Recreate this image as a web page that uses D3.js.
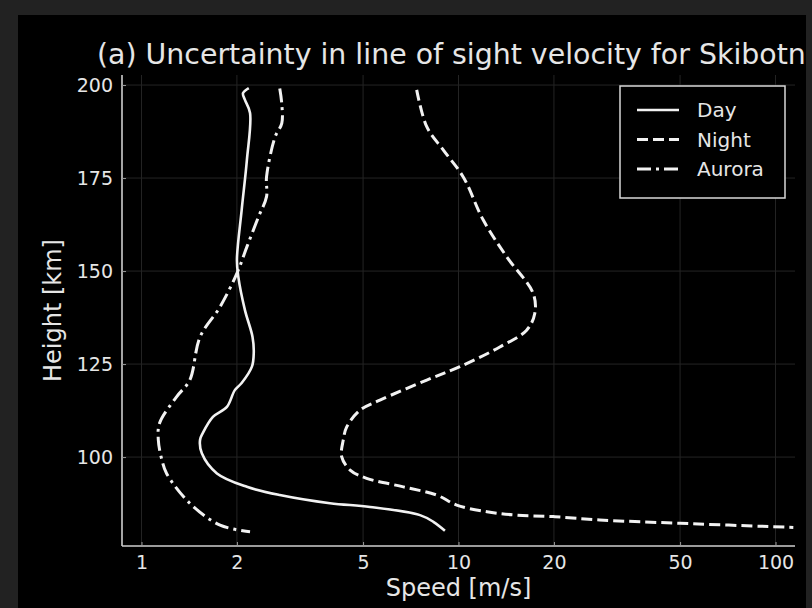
<!DOCTYPE html>
<html>
<head>
<meta charset="utf-8">
<script src="https://cdn.jsdelivr.net/npm/d3@7"></script>
<style>
  html, body { margin: 0; padding: 0; background: #222; }
  svg { display: block; }
  text { font-family: "DejaVu Sans", sans-serif; fill: #e6e6e6; }
</style>
</head>
<body>
<svg id="chart" width="812" height="608"></svg>
<script>
// Line-of-sight velocity uncertainty profiles (speed in m/s vs height in km)
const dayHeight   = [199.2, 197.8, 196, 192.5, 179.8, 166.4, 153, 148.5, 139.5, 132.3, 128, 124.3, 119.9, 118, 113.5, 110.8, 106.4, 104.6, 101, 95.6, 92, 89.8, 87.6, 86.6, 84.4, 82.6, 80.2];
const daySpeed    = [2.18, 2.09, 2.12, 2.20, 2.15, 2.07, 2.00, 2.02, 2.12, 2.24, 2.26, 2.23, 2.07, 1.97, 1.86, 1.68, 1.56, 1.53, 1.55, 1.73, 2.15, 2.73, 3.93, 5.26, 7.56, 8.33, 9.06];

const nightHeight = [198.7, 188.8, 182.5, 175.3, 163.7, 153.8, 144, 138.6, 134.1, 129.6, 124.3, 120.7, 115.3, 112.6, 108.1, 104.6, 100.1, 96.5, 94.3, 92, 89.8, 87.1, 85.3, 84.4, 84, 83.1, 82.2, 81.1];
const nightSpeed  = [7.38, 7.94, 8.96, 10.35, 11.97, 14.2, 17.2, 17.4, 16.4, 13.5, 10.1, 7.94, 5.65, 4.89, 4.44, 4.33, 4.28, 4.55, 5.13, 6.70, 8.53, 9.87, 12.3, 15.3, 19.9, 27.9, 50.0, 113.8];

const auroraHeight = [199.1, 195, 189.7, 186.1, 175.3, 170, 164.6, 156.5, 149.4, 140.4, 132.3, 120.7, 116.2, 109.1, 104.6, 99.2, 95.6, 87.6, 81.7, 79.9];
const auroraSpeed  = [2.73, 2.77, 2.77, 2.64, 2.48, 2.48, 2.34, 2.15, 2.00, 1.77, 1.53, 1.42, 1.29, 1.14, 1.13, 1.16, 1.20, 1.42, 1.77, 2.20];

const xTicks = [1, 2, 5, 10, 20, 50, 100];
const yTicks = [100, 125, 150, 175, 200];
const seriesNames = ["Day", "Night", "Aurora"];

const title = "(a) Uncertainty in line of sight velocity for Skibotn";
const xLabel = "Speed [m/s]";
const yLabel = "Height [km]";

const svg = d3.select("#chart");
const W = 812, H = 608;
const plot = { left: 122, right: 795, top: 75, bottom: 546 };

// frame: dark gray surround with black canvas
svg.append("rect").attr("width", W).attr("height", H).attr("fill", "#222");
svg.append("rect").attr("x", 18).attr("y", 15).attr("width", 788).attr("height", H - 15).attr("fill", "#000");

const x = d3.scaleLog().domain([0.868, 115.2]).range([plot.left, plot.right]);
const y = d3.scaleLinear().domain([76.1, 202.7]).range([plot.bottom, plot.top]);

// grid
const grid = svg.append("g").attr("stroke", "#242424").attr("stroke-width", 1);
grid.selectAll("line.v").data(xTicks).join("line")
  .attr("x1", d => x(d)).attr("x2", d => x(d))
  .attr("y1", plot.top).attr("y2", plot.bottom);
grid.selectAll("line.h").data(yTicks).join("line")
  .attr("x1", plot.left).attr("x2", plot.right)
  .attr("y1", d => y(d)).attr("y2", d => y(d));

// axes
const xAxis = d3.axisBottom(x).tickValues(xTicks).tickFormat(d3.format("d")).tickSizeInner(-4).tickSizeOuter(0).tickPadding(10);
const yAxis = d3.axisLeft(y).tickValues(yTicks).tickFormat(d3.format("d")).tickSizeInner(-4).tickSizeOuter(0).tickPadding(9);

const gx = svg.append("g").attr("transform", `translate(0,${plot.bottom})`).call(xAxis);
const gy = svg.append("g").attr("transform", `translate(${plot.left},0)`).call(yAxis);
[gx, gy].forEach(g => {
  g.select(".domain").attr("stroke", "#cfcfcf").attr("stroke-width", 1.6);
  g.selectAll(".tick line").attr("stroke", "#9a9a9a").attr("stroke-width", 1);
  g.selectAll(".tick text").attr("fill", "#dcdcdc").style("font-size", "19px").style("font-family", "DejaVu Sans, sans-serif");
});
gx.select(".domain").attr("d", `M${plot.left},0H${plot.right}`);
gy.select(".domain").attr("d", `M0,${plot.top}V${plot.bottom}`);

// data lines
svg.append("clipPath").attr("id", "clip").append("rect")
  .attr("x", plot.left).attr("y", plot.top)
  .attr("width", plot.right - plot.left).attr("height", plot.bottom - plot.top);

const series = [
  { name: "Day",    h: dayHeight,    v: daySpeed,    dash: null },
  { name: "Night",  h: nightHeight,  v: nightSpeed,  dash: "11,5" },
  { name: "Aurora", h: auroraHeight, v: auroraSpeed, dash: "14,5,3,5" }
];

const line = d3.line()
  .x(d => x(d[0]))
  .y(d => y(d[1]))
  .curve(d3.curveCatmullRom.alpha(0.5));

const lines = svg.append("g").attr("clip-path", "url(#clip)");
series.forEach(s => {
  const pts = s.v.map((v, i) => [v, s.h[i]]);
  lines.append("path")
    .datum(pts)
    .attr("d", line)
    .attr("fill", "none")
    .attr("stroke", "#f2f2f2")
    .attr("stroke-width", s.name === "Day" ? 2.6 : 3)
    .attr("stroke-dasharray", s.dash);
});

// legend
const legend = svg.append("g");
legend.append("rect")
  .attr("x", 620).attr("y", 86).attr("width", 165).attr("height", 112)
  .attr("fill", "#000").attr("stroke", "#d8d8d8").attr("stroke-width", 1.5);
series.forEach((s, i) => {
  const ly = 110 + i * 29.5;
  legend.append("line")
    .attr("x1", 637).attr("x2", 679).attr("y1", ly).attr("y2", ly)
    .attr("stroke", "#f2f2f2").attr("stroke-width", s.name === "Day" ? 2.6 : 3)
    .attr("stroke-dasharray", s.dash);
  legend.append("text")
    .attr("x", 697).attr("y", ly).attr("dy", "0.35em")
    .style("font-size", "20px")
    .text(seriesNames[i]);
});

// titles
svg.append("text")
  .attr("x", 97).attr("y", 64)
  .style("font-size", "28.4px")
  .text(title);

svg.append("text")
  .attr("x", (plot.left + plot.right) / 2).attr("y", 596)
  .attr("text-anchor", "middle")
  .style("font-size", "24px")
  .text(xLabel);

svg.append("text")
  .attr("transform", `translate(61,${(plot.top + plot.bottom) / 2}) rotate(-90)`)
  .attr("text-anchor", "middle")
  .style("font-size", "24px")
  .text(yLabel);

// the right edge strip sits above the title overflow
svg.append("rect").attr("x", 806).attr("y", 0).attr("width", 6).attr("height", H).attr("fill", "#222");
</script>
</body>
</html>
